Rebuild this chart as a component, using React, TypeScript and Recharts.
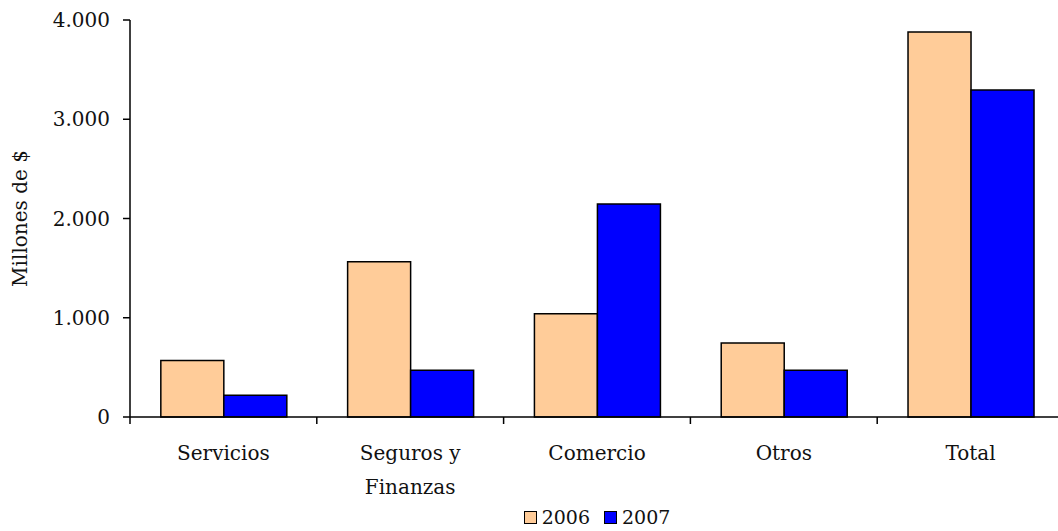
import { BarChart, Bar, XAxis, YAxis, Legend } from "recharts";

const categories = ["Servicios", "Seguros y Finanzas", "Comercio", "Otros", "Total"];
const values2006 = [570, 1565, 1040, 745, 3880];
const values2007 = [220, 470, 2145, 470, 3295];
const yTicks = [0, 1000, 2000, 3000, 4000];
const slotTicks = [0, 0.5, 1, 1.5, 2, 2.5, 3, 3.5, 4, 4.5, 5];
const seriesNames = ["2006", "2007"];
const seriesColors = ["#FFCC99", "#0000FF"];

// slot = centre of each category on a 0..5 numeric axis
const data = categories.map((name, i) => ({
  name,
  slot: i + 0.5,
  v2006: values2006[i],
  v2007: values2007[i],
}));

const FONT = "'DejaVu Serif', 'Liberation Serif', serif";

function formatThousands(v: number) {
  return String(v).replace(/\B(?=(\d{3})+(?!\d))/g, ".");
}

function wrapLabel(label: string, maxChars = 10) {
  const words = label.split(" ");
  const lines: string[] = [];
  let cur = "";
  for (const w of words) {
    const next = cur ? cur + " " + w : w;
    if (next.length > maxChars && cur) {
      lines.push(cur);
      cur = w;
    } else {
      cur = next;
    }
  }
  if (cur) lines.push(cur);
  return lines;
}

// one axis draws both the boundary tick marks (integers) and the category labels (halves)
function SlotTick(props: any) {
  const { x, y, payload } = props;
  const v = payload.value as number;
  if (Number.isInteger(v)) {
    return <line x1={x} x2={x} y1={y} y2={y + 7} stroke="#000" strokeWidth={1.5} />;
  }
  const lines = wrapLabel(categories[Math.floor(v)]);
  return (
    <text x={x} y={y + 43} textAnchor="middle" fontFamily={FONT} fontSize={20} fill="#111">
      {lines.map((l, i) => (
        <tspan key={i} x={x} dy={i === 0 ? 0 : 34}>
          {l}
        </tspan>
      ))}
    </text>
  );
}

function YLabel(props: any) {
  const { viewBox } = props;
  const cx = viewBox.x + 20;
  const cy = viewBox.y + viewBox.height / 2;
  return (
    <text
      x={cx}
      y={cy}
      transform={`rotate(-90, ${cx}, ${cy})`}
      textAnchor="middle"
      dominantBaseline="central"
      fontFamily={FONT}
      fontSize={20}
      fill="#111"
    >
      Millones de $
    </text>
  );
}

function LegendContent() {
  return (
    <div
      style={{
        display: "flex",
        justifyContent: "center",
        alignItems: "center",
        paddingLeft: 130,
        height: 24,
        lineHeight: "24px",
        fontFamily: FONT,
        fontSize: 19,
        color: "#111",
      }}
    >
      {seriesNames.map((n, i) => (
        <span key={n} style={{ display: "flex", alignItems: "center", marginRight: i === 0 ? 14 : 0 }}>
          <span
            style={{
              display: "inline-block",
              width: 11,
              height: 11,
              background: seriesColors[i],
              border: "1.5px solid #000",
              marginRight: 5,
            }}
          />
          {n}
        </span>
      ))}
    </div>
  );
}

export default function App() {
  return (
    <div style={{ position: "absolute", left: 0, top: 0, width: 1058, height: 531, overflow: "hidden", background: "#fff" }}>
      <BarChart
        width={1064}
        height={531}
        data={data}
        margin={{ top: 20, right: 0, left: 0, bottom: 2 }}
        barCategoryGap="16.5%"
        barGap={0}
      >
        <XAxis dataKey="name" xAxisId="cat" hide height={0} />
        <XAxis
          xAxisId="slot"
          dataKey="slot"
          type="number"
          domain={[0, 5]}
          ticks={slotTicks}
          interval={0}
          tickSize={0}
          tickMargin={0}
          tickLine={false}
          tick={<SlotTick />}
          axisLine={{ stroke: "#000", strokeWidth: 1.5 }}
          height={88}
          allowDataOverflow
        />
        <YAxis
          width={130}
          domain={[0, 4000]}
          ticks={yTicks}
          interval={0}
          tickSize={7}
          tickMargin={13}
          tickFormatter={formatThousands}
          tick={{ fontFamily: FONT, fontSize: 20, fill: "#111" }}
          axisLine={{ stroke: "#000", strokeWidth: 1.5 }}
          tickLine={{ stroke: "#000", strokeWidth: 1.5 }}
          label={<YLabel />}
        />
        <Legend verticalAlign="bottom" height={24} content={<LegendContent />} />
        <Bar xAxisId="cat" dataKey="v2006" name="2006" fill={seriesColors[0]} stroke="#000" strokeWidth={1.5} isAnimationActive={false} />
        <Bar xAxisId="cat" dataKey="v2007" name="2007" fill={seriesColors[1]} stroke="#000" strokeWidth={1.5} isAnimationActive={false} />
      </BarChart>
    </div>
  );
}
